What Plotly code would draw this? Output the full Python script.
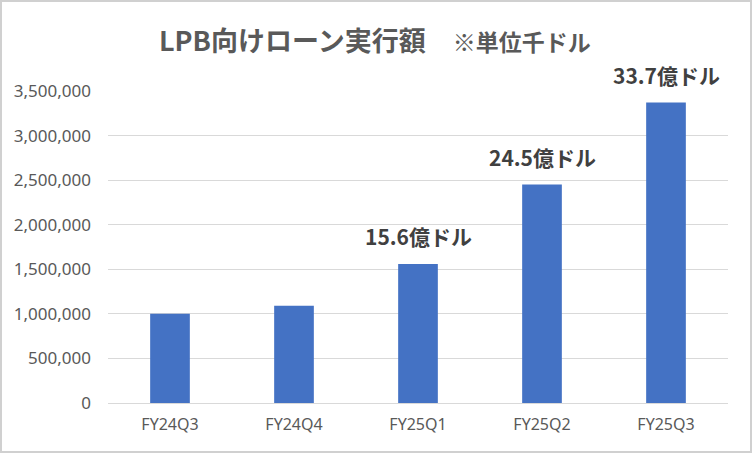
import plotly.graph_objects as go

categories = ["FY24Q3", "FY24Q4", "FY25Q1", "FY25Q2", "FY25Q3"]
values = [1000000, 1090000, 1560000, 2450000, 3370000]
labels = ["", "", "15.6億ドル", "24.5億ドル", "33.7億ドル"]
tick_vals = [0, 500000, 1000000, 1500000, 2000000, 2500000, 3000000, 3500000]
tick_text = ["0", "500,000", "1,000,000", "1,500,000", "2,000,000", "2,500,000", "3,000,000", "3,500,000"]

W, H = 752, 453
ML, MR, MT, MB = 108, 24, 91, 50
pw = W - ML - MR
ph = H - MT - MB

fig = go.Figure()
fig.add_trace(go.Bar(x=categories, y=values, marker=dict(color="#4472C4", line=dict(width=0)),
                     width=0.32, hoverinfo="skip"))

for c, v, t in zip(categories, values, labels):
    if t:
        fig.add_annotation(x=c, y=v, text="<b>" + t + "</b>", showarrow=False,
                           yanchor="middle", yshift=28,
                           font=dict(family="Noto Sans CJK JP", size=21, color="#404040"))

fig.add_annotation(xref="paper", yref="paper", x=(375 - ML) / pw, y=(H - MB - 40) / ph,
                   text="<b>LPB向けローン実行額</b>　<b><span style='font-size:23px'>※単位千ドル</span></b>",
                   showarrow=False, xanchor="center", yanchor="middle",
                   font=dict(family="Noto Sans CJK JP", size=27, color="#595959"))

# outer chart border
fig.add_shape(type="rect", xref="paper", yref="paper",
              x0=(1 - ML) / pw, x1=(W - 1 - ML) / pw,
              y0=(H - MB - (H - 1)) / ph, y1=(H - MB - 1) / ph,
              line=dict(color="#d0d0d0", width=2), fillcolor="rgba(0,0,0,0)", layer="below")

fig.update_layout(
    width=W, height=H,
    margin=dict(l=ML, r=MR, t=MT, b=MB),
    paper_bgcolor="white", plot_bgcolor="white",
    showlegend=False,
    bargap=0.68,
    font=dict(family="Noto Sans", color="#595959"),
)
fig.update_xaxes(showgrid=False, showline=False, ticks="", tickfont=dict(size=16, color="#595959"),
                 ticklabelstandoff=10, fixedrange=True)
fig.update_yaxes(range=[0, 3500000], tickvals=tick_vals, ticktext=tick_text,
                 showgrid=True, gridcolor="#d9d9d9", gridwidth=1.3,
                 zeroline=True, zerolinecolor="#d9d9d9", zerolinewidth=1.3,
                 showline=False, ticks="", tickfont=dict(size=17, color="#595959"),
                 ticklabelstandoff=16, fixedrange=True)

fig.write_html("out.html", config={"displayModeBar": False},
               post_script="document.body.style.margin='0';document.body.style.overflow='hidden';")
